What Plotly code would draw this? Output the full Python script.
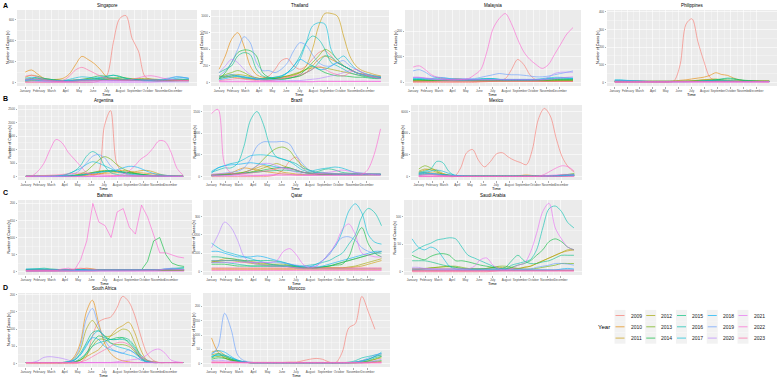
import plotly.graph_objects as go

W_PX, H_PX = 781, 378

YEARS = [2009, 2010, 2011, 2012, 2013, 2014, 2015, 2016, 2017, 2018, 2019, 2020, 2021, 2022, 2023]
COLORS = ["#F8766D", "#E58700", "#C99800", "#A3A500", "#6BB100", "#00BA38", "#00BF7D", "#00C0AF",
          "#00BCD8", "#00B0F6", "#619CFF", "#B983FF", "#E76BF3", "#FD61D1", "#FF67A4"]
WEEKS = [1, 3, 5, 7, 9, 11, 13, 15, 17, 19, 21, 23, 25, 27, 29, 31, 33, 35, 37, 39, 41, 43, 45, 47, 49, 51, 53]
MONTHS = ["January", "February", "March", "April", "May", "June", "July", "August",
          "September", "October", "November", "December"]
MONTH_WEEKS = [1, 5.43, 9.43, 13.86, 18.14, 22.57, 26.86, 31.29, 35.71, 40, 44.43, 48.71]

SINGAPORE = {
    2009: [0,0,0,0,0,0,0,0,0,0,0,5,20,70,380,610,640,420,300,60,30,25,20,20,20,20,20],
    2010: [100,120,80,40,30,30,40,80,170,250,220,180,120,50,30,30,30,35,35,30,25,20,20,20,25,25,25],
    2011: [50,70,60,40,30,25,20,20,25,30,35,40,35,30,30,25,20,20,20,25,25,25,20,20,20,20,20],
    2012: [15,20,25,25,20,15,15,15,15,20,20,25,30,35,40,35,30,30,35,40,35,30,25,20,20,20,20],
    2013: [10,15,15,15,15,12,10,10,12,15,15,20,25,30,40,50,45,35,30,25,20,15,15,15,15,15,15],
    2014: [30,40,40,35,30,25,20,20,25,30,40,55,65,60,70,60,40,30,25,20,20,20,20,20,25,25,25],
    2015: [25,30,30,25,20,18,15,15,20,25,30,35,45,50,45,35,30,25,20,20,18,15,15,15,18,20,20],
    2016: [20,35,55,40,30,20,15,15,20,25,30,35,40,40,35,30,25,20,20,15,15,15,20,25,30,30,25],
    2017: [40,50,45,30,25,20,20,30,45,55,50,45,50,60,70,55,40,30,25,20,20,20,25,40,55,50,40],
    2018: [20,25,20,15,15,15,15,15,18,20,20,25,30,25,20,20,20,20,25,30,30,25,25,30,40,45,40],
    2019: [25,30,25,20,15,15,15,20,25,30,25,20,20,20,20,20,20,20,20,20,20,25,35,45,55,50,40],
    2020: [15,15,10,8,5,5,5,5,5,5,5,5,5,5,5,5,5,5,5,5,5,5,5,5,5,5,5],
    2021: [5,5,5,5,5,5,5,5,5,5,5,5,5,5,5,5,5,5,5,5,5,8,10,12,15,15,15],
    2022: [30,35,30,20,15,10,10,10,15,20,20,20,20,20,20,20,25,30,45,60,65,55,40,30,25,20,20],
    2023: [60,70,50,30,20,15,20,60,120,145,120,90,60,40,30,25,20,20,20,25,25,20,20,20,20,20,20],
}
THAILAND = {
    2009: [80,100,120,100,80,60,50,60,100,200,330,360,250,200,250,350,450,480,400,300,250,200,150,120,100,80,60],
    2010: [200,400,650,750,550,250,120,80,70,60,60,70,80,100,150,250,350,400,350,300,250,200,150,130,120,100,90],
    2011: [100,90,80,70,60,50,50,50,60,70,80,90,110,150,250,500,850,1040,1040,1000,700,400,250,180,150,120,100],
    2012: [60,80,100,120,110,90,70,60,60,70,80,100,130,160,200,220,230,220,200,180,160,140,120,100,90,80,70],
    2013: [80,120,150,180,150,100,70,50,50,60,80,100,120,150,200,300,400,500,450,350,250,200,150,120,100,90,80],
    2014: [50,150,300,450,490,480,400,150,80,60,50,60,80,120,200,250,200,150,120,100,100,90,80,80,70,60,60],
    2015: [150,200,250,400,450,420,200,100,70,50,50,60,80,100,150,200,300,400,380,300,250,200,150,120,100,80,70],
    2016: [60,80,100,90,70,60,50,50,60,80,100,150,250,400,600,700,650,500,300,250,200,150,120,100,80,70,60],
    2017: [80,100,120,100,80,70,60,60,70,80,100,150,200,350,600,850,900,880,500,350,400,300,200,150,120,100,80],
    2018: [40,60,80,100,90,70,50,40,40,50,80,150,250,350,300,250,200,200,250,300,250,200,150,120,100,80,70],
    2019: [100,180,300,500,690,600,300,180,180,150,200,300,480,600,560,420,300,250,250,300,330,250,200,150,120,100,90],
    2020: [150,250,350,300,200,120,60,40,30,30,30,30,30,30,40,50,60,80,100,120,150,180,150,120,100,80,60],
    2021: [20,20,20,20,20,15,15,15,15,15,15,15,15,15,15,15,20,20,20,20,20,20,20,20,20,20,20],
    2022: [10,10,10,10,10,10,10,10,10,10,10,10,10,10,10,10,15,15,15,15,15,15,15,15,15,15,15],
    2023: [30,40,50,60,50,40,30,30,30,40,60,80,100,120,150,200,250,200,150,120,100,150,200,150,100,80,60],
}
MALAYSIA = {
    2009: [0,0,0,0,0,0,0,0,0,0,0,2,3,5,8,15,50,90,70,30,10,5,5,5,5,5,5],
    2010: [5,5,5,5,5,8,12,15,12,8,5,5,5,5,5,5,5,5,5,5,5,5,5,5,5,5,5],
    2011: [8,8,8,8,8,8,10,12,12,10,8,8,8,8,8,8,8,8,8,8,8,8,8,10,12,12,12],
    2012: [5,5,5,5,6,6,6,5,5,5,5,5,5,5,5,5,5,5,5,5,5,5,5,5,6,6,6],
    2013: [6,6,7,7,7,6,6,6,6,6,6,6,6,6,6,6,7,7,7,7,7,7,7,7,8,8,8],
    2014: [10,10,9,8,8,8,8,8,8,8,8,8,8,8,8,8,8,8,8,9,9,10,10,10,10,10,10],
    2015: [12,12,10,10,10,10,10,10,10,10,10,10,10,10,10,10,10,10,10,10,10,10,10,12,12,12,12],
    2016: [10,12,12,12,15,15,12,10,10,10,12,15,15,15,12,10,10,10,10,10,10,12,15,15,15,15,15],
    2017: [15,15,15,15,20,18,15,12,10,10,10,12,15,15,12,10,10,10,10,10,12,15,18,20,20,18,15],
    2018: [18,18,16,14,12,12,12,12,12,12,12,12,12,12,12,12,12,12,12,12,12,12,14,16,18,18,18],
    2019: [45,50,40,25,20,18,15,15,15,15,15,20,25,30,35,32,30,30,28,25,22,22,25,30,35,40,45],
    2020: [20,20,15,12,10,10,10,10,10,10,10,10,10,10,10,10,10,10,10,10,10,12,20,35,40,40,40],
    2021: [20,20,18,15,12,10,10,10,10,10,10,10,10,10,10,10,10,10,10,10,10,10,12,15,18,20,22],
    2022: [60,65,50,30,20,15,10,10,12,15,30,50,120,210,250,270,230,170,120,90,70,55,70,110,150,190,215],
    2023: [4,4,4,4,4,4,4,4,4,4,4,4,4,4,4,4,4,4,4,4,4,4,4,4,4,4,4],
}
PHILIPPINES = {
    2009: [0,0,0,0,0,0,0,0,0,0,10,100,330,360,230,120,30,10,5,5,5,5,5,5,5,5,5],
    2010: [5,5,5,5,5,5,5,5,5,5,8,12,15,20,25,30,40,55,45,40,25,15,10,8,8,8,8],
    2011: [10,10,10,8,8,8,8,8,8,8,8,8,8,10,12,15,18,20,15,12,10,10,8,8,8,8,8],
    2012: [8,8,8,8,8,6,6,6,6,6,6,6,8,10,12,15,15,12,10,8,8,8,8,8,8,8,8],
    2013: [6,6,6,6,6,6,6,6,6,6,6,6,6,6,8,10,12,12,10,8,6,6,6,6,6,6,6],
    2014: [5,5,5,5,5,5,5,5,5,5,5,5,5,6,8,10,12,15,18,20,18,15,12,10,8,6,6],
    2015: [6,6,6,6,6,6,6,6,6,6,6,6,6,6,6,8,10,15,20,25,22,15,10,8,6,6,6],
    2016: [4,4,4,4,4,4,4,4,4,4,4,4,4,5,6,8,10,12,12,10,8,6,5,5,5,5,5],
    2017: [15,15,12,10,8,6,5,5,5,5,5,5,5,5,5,5,5,5,5,5,5,5,5,5,5,5,5],
    2018: [12,12,10,8,8,6,6,6,6,6,6,6,6,6,6,6,6,6,6,6,6,6,6,6,6,6,6],
    2019: [10,10,10,8,8,8,6,6,6,6,6,6,6,6,6,8,8,8,8,8,8,6,6,6,6,6,6],
    2020: [4,4,4,4,4,4,4,4,4,4,4,4,4,4,4,4,4,4,4,4,4,4,4,4,4,4,4],
    2021: [3,3,3,3,3,3,3,3,3,3,3,3,3,3,3,3,3,3,3,3,3,3,3,3,3,3,3],
    2022: [2,2,2,2,2,2,2,2,2,2,2,2,2,2,2,2,2,2,2,2,2,2,2,2,2,2,2],
    2023: [5,5,5,5,5,5,5,5,5,5,5,5,5,5,5,5,5,5,5,5,5,5,5,5,5,4,4],
}
ARGENTINA = {
    2009: [0,0,0,0,0,0,0,0,0,0,0,30,150,1900,2450,500,150,60,30,20,20,20,20,20,20,20,20],
    2010: [10,10,10,10,10,10,10,15,20,30,50,80,100,120,130,140,150,160,150,140,120,100,60,30,20,10,10],
    2011: [10,10,10,10,10,10,15,20,30,40,60,80,100,150,200,220,230,200,180,220,230,180,100,50,30,20,10],
    2012: [10,10,10,10,10,15,20,30,50,80,120,150,200,230,200,180,150,120,100,80,60,40,30,20,15,10,10],
    2013: [10,10,10,10,10,15,20,30,50,100,200,400,600,740,650,450,300,200,120,80,50,30,20,15,10,10,10],
    2014: [10,10,10,10,10,10,15,20,40,60,100,150,180,200,220,200,180,150,120,90,60,40,30,20,15,10,10],
    2015: [10,10,10,10,10,10,15,20,30,50,80,120,160,200,210,200,170,140,110,80,60,40,30,20,15,10,10],
    2016: [10,10,10,10,15,20,40,100,200,400,750,930,800,400,150,80,50,30,20,20,20,20,15,15,10,10,10],
    2017: [10,10,10,10,10,20,50,100,200,300,450,550,500,400,300,200,150,100,70,50,30,20,15,10,10,10,10],
    2018: [10,10,10,10,10,10,15,20,30,50,80,120,150,180,200,250,320,380,370,300,200,120,80,50,30,20,10],
    2019: [10,10,10,10,15,20,30,50,100,250,500,750,820,700,400,200,120,80,60,50,40,30,20,15,10,10,10],
    2020: [10,10,10,10,10,10,10,10,10,10,10,10,10,10,10,10,10,10,10,10,10,10,10,10,10,10,10],
    2021: [5,5,5,5,5,5,5,5,5,5,5,5,5,5,5,10,15,20,25,30,30,25,20,15,10,5,5],
    2022: [10,30,200,500,1000,1380,1250,900,650,400,150,30,20,20,20,30,80,200,400,650,800,1050,1330,1300,900,300,50],
    2023: [20,20,30,40,50,60,80,100,120,130,120,100,80,60,50,40,30,25,20,20,20,20,20,20,20,20,20],
}
BRAZIL = {
    2009: [0,0,0,0,0,0,0,0,0,10,50,150,350,450,200,80,50,50,50,50,50,50,50,50,50,50,50],
    2010: [30,40,50,80,150,200,180,150,120,100,80,60,50,40,40,40,40,40,40,40,40,40,40,40,40,40,40],
    2011: [40,50,60,60,80,100,150,200,250,200,150,100,80,60,50,50,50,50,50,50,50,50,50,40,40,40,40],
    2012: [20,30,40,50,60,80,100,150,200,250,300,250,200,150,100,80,60,50,50,50,50,50,50,50,50,50,50],
    2013: [30,40,50,60,80,100,150,250,400,550,650,680,600,400,250,150,100,80,70,60,50,40,40,40,40,40,40],
    2014: [20,30,40,50,60,80,100,120,150,180,200,210,200,150,100,80,60,50,50,50,50,50,50,50,50,50,50],
    2015: [30,40,50,60,70,80,90,100,120,130,140,150,140,120,100,80,100,150,180,150,100,80,70,60,50,50,50],
    2016: [100,150,200,200,300,700,1300,1500,1200,700,450,400,350,300,200,150,100,100,80,70,60,60,60,60,60,60,60],
    2017: [120,200,250,300,330,400,480,500,500,480,450,400,350,250,150,120,150,180,200,220,200,150,100,80,70,60,60],
    2018: [80,200,250,270,280,300,320,300,280,250,220,200,180,150,100,80,70,60,60,50,50,50,50,50,50,50,50],
    2019: [50,60,80,100,120,200,400,700,800,800,800,810,750,500,300,150,100,80,70,60,60,50,50,50,50,50,50],
    2020: [20,20,20,30,50,80,150,250,300,300,250,200,150,100,60,40,30,30,30,30,30,30,30,30,30,30,30],
    2021: [20,20,20,20,20,20,20,20,30,40,50,60,50,40,30,30,50,80,100,120,150,130,100,80,60,40,30],
    2022: [1450,1550,300,80,50,40,30,30,30,30,30,30,30,30,30,30,30,30,30,30,30,30,30,40,150,500,1100],
    2023: [50,60,60,60,60,70,80,100,120,150,180,200,180,150,100,80,70,60,60,60,60,60,60,60,60,60,60],
}
MEXICO = {
    2009: [0,0,0,0,0,0,30,800,2200,2500,1500,900,1400,2100,2200,1800,1500,1300,1100,2500,5300,6300,5600,3500,1800,900,400],
    2010: [300,400,350,300,200,100,60,40,30,30,30,30,30,30,30,30,30,100,150,100,60,40,40,40,60,80,100],
    2011: [400,600,700,600,300,150,80,50,40,40,40,40,40,40,40,40,40,40,40,40,40,40,40,50,60,80,100],
    2012: [500,700,600,400,250,150,80,50,40,40,40,40,40,40,40,40,40,40,40,40,40,40,40,80,150,200,250],
    2013: [700,1000,800,500,200,100,50,40,40,40,40,40,40,40,40,40,40,40,40,40,40,40,40,60,80,100,150],
    2014: [200,300,250,200,150,100,60,40,30,30,30,30,30,30,30,30,30,30,30,30,30,40,60,100,150,200,250],
    2015: [150,200,200,180,150,100,60,40,30,30,30,30,30,30,30,30,30,30,30,30,30,40,50,80,120,150,150],
    2016: [400,500,700,1400,1300,500,100,50,50,40,40,40,40,40,40,40,40,40,40,40,40,40,40,60,80,100,100],
    2017: [300,400,500,600,500,300,150,80,50,40,40,40,40,40,40,40,40,40,40,40,40,40,40,50,60,80,100],
    2018: [300,350,300,250,200,150,100,60,40,30,30,30,30,30,30,30,30,30,30,30,30,30,40,60,100,150,200],
    2019: [200,250,250,200,150,100,60,40,30,30,30,30,30,30,30,30,30,30,30,30,30,30,40,60,80,100,120],
    2020: [100,150,200,150,100,60,40,30,20,20,20,20,20,20,20,20,20,20,20,20,20,20,20,20,20,20,20],
    2021: [20,20,20,20,20,20,20,20,20,20,20,20,20,20,20,20,20,20,20,30,50,80,120,150,200,200,150],
    2022: [30,30,30,30,30,30,30,30,30,30,30,30,30,30,30,30,30,30,30,30,30,200,500,800,1000,900,500],
    2023: [100,150,150,120,80,50,30,20,20,20,20,20,20,20,20,20,20,20,20,20,20,20,20,20,20,20,20],
}
BAHRAIN = {
    2009: [0,0,0,0,0,0,0,0,0,0,0,2,3,4,4,3,3,3,3,3,3,3,3,3,3,3,3],
    2010: [5,5,5,5,5,5,5,5,5,8,10,8,5,5,5,5,5,5,5,5,5,5,5,5,5,5,5],
    2011: [4,4,4,4,4,4,4,4,4,4,4,4,4,4,4,4,4,4,4,4,4,4,4,4,4,4,4],
    2012: [3,3,3,3,3,3,3,3,3,3,3,3,3,3,3,3,3,3,3,3,3,3,3,3,3,3,3],
    2013: [5,5,6,6,5,5,4,4,4,4,4,4,4,4,4,4,4,4,4,4,4,4,4,4,4,4,4],
    2014: [2,2,2,2,2,2,2,2,2,2,2,2,2,2,2,2,2,2,3,5,30,90,100,50,25,18,15],
    2015: [6,7,8,10,8,6,5,4,4,4,4,4,4,4,4,4,4,4,4,4,4,4,5,6,8,10,10],
    2016: [6,6,6,6,5,5,5,5,5,5,5,5,5,5,5,5,5,5,5,5,5,5,6,8,10,12,12],
    2017: [8,8,10,8,6,5,4,4,4,4,4,4,4,4,4,4,4,4,4,4,4,4,4,5,6,6,6],
    2018: [5,5,5,5,5,5,5,5,5,5,5,5,5,5,5,5,5,5,5,5,5,5,5,5,5,5,5],
    2019: [3,3,3,3,3,3,3,3,3,3,3,3,3,3,3,3,3,3,3,3,3,3,5,8,10,8,6],
    2020: [2,2,2,2,2,2,2,2,2,2,2,2,2,2,2,2,2,2,2,2,2,3,5,8,8,6,5],
    2021: [1,1,1,1,1,1,1,1,1,1,1,1,1,1,1,1,1,1,1,1,1,1,1,1,1,1,1],
    2022: [3,3,3,3,3,3,8,10,5,35,90,200,145,135,100,175,185,130,110,195,160,110,55,55,48,43,40],
    2023: [4,4,4,4,4,4,4,5,8,10,8,6,5,5,5,5,5,5,5,5,5,5,5,5,5,5,5],
}
QATAR = {
    2009: [10,10,10,10,10,10,10,10,10,10,10,10,10,10,10,10,10,10,10,10,10,10,10,10,10,10,10],
    2010: [15,15,15,15,15,15,15,15,15,15,15,15,15,15,15,15,15,15,15,15,15,15,15,15,15,15,15],
    2011: [50,60,70,70,65,60,55,50,45,40,35,30,25,20,20,20,20,20,20,20,20,20,25,30,40,50,60],
    2012: [55,55,60,60,55,50,45,40,35,30,30,30,30,25,20,20,20,20,20,20,20,25,30,40,50,60,70],
    2013: [60,60,60,60,60,55,50,45,40,40,40,40,35,30,25,20,20,25,30,40,50,60,70,80,90,100,110],
    2014: [40,40,40,35,30,30,30,30,30,30,30,30,30,25,20,20,20,25,30,35,40,80,180,240,150,100,80],
    2015: [80,80,75,70,65,60,60,60,60,60,55,50,40,30,25,20,20,25,30,40,50,60,70,80,90,100,100],
    2016: [50,50,50,45,40,35,30,30,30,30,30,30,30,30,30,35,40,50,60,80,100,150,200,300,345,320,250],
    2017: [155,130,110,100,90,80,70,60,50,40,35,30,25,20,20,25,40,60,100,140,220,330,370,320,200,160,150],
    2018: [110,110,100,90,80,80,80,85,80,70,60,50,40,30,25,25,25,30,40,50,60,70,80,90,100,110,110],
    2019: [60,60,60,60,60,55,50,50,50,50,50,45,40,35,30,30,30,60,90,150,185,190,170,130,110,100,110],
    2020: [130,200,270,240,170,80,50,40,35,30,30,30,25,20,15,15,15,15,15,15,15,15,15,15,15,15,15],
    2021: [50,50,50,50,50,50,50,50,50,50,60,110,125,90,40,20,30,60,100,150,230,260,200,100,90,80,80],
    2022: [5,5,5,5,5,5,5,5,5,5,5,5,5,5,5,5,5,5,5,5,5,5,5,5,5,5,5],
    2023: [20,20,20,20,20,20,20,20,20,20,20,20,20,20,20,20,20,20,20,20,20,20,20,20,20,20,20],
}
SAUDI_ARABIA = {
    2009: [0,0,0,0,0,0,0,0,0,0,0,0,0,1,2,3,3,3,3,3,3,3,3,3,3,3,3],
    2010: [2,2,2,2,2,2,2,2,2,2,2,2,2,2,2,2,2,2,2,2,2,2,2,2,2,2,2],
    2011: [5,5,5,5,5,5,5,5,5,5,5,5,5,5,5,5,5,5,8,10,15,20,25,30,35,38,40],
    2012: [3,4,5,7,8,9,9,8,6,5,5,5,6,8,8,7,6,6,8,10,15,20,25,30,35,40,40],
    2013: [5,5,6,7,8,9,10,10,8,6,5,5,6,8,10,10,8,6,5,5,6,8,10,12,15,15,15],
    2014: [30,25,22,28,32,33,30,20,20,18,15,12,10,8,6,5,8,12,15,20,30,40,55,60,55,45,40],
    2015: [20,20,20,18,15,12,10,8,6,5,5,5,5,5,5,8,20,30,20,15,15,18,20,25,30,30,30],
    2016: [35,42,48,52,58,60,62,60,45,30,25,20,15,10,5,5,12,15,18,22,40,80,115,120,110,90,80],
    2017: [60,45,40,45,40,25,10,5,3,3,3,3,3,3,3,3,3,3,3,3,3,3,3,3,3,3,3],
    2018: [3,3,3,3,3,3,3,3,3,3,3,3,3,3,3,3,3,3,3,3,3,3,3,3,5,6,5],
    2019: [5,5,5,5,5,5,5,5,5,5,5,5,5,5,5,5,5,5,5,5,8,10,12,15,15,14,12],
    2020: [8,8,6,5,4,3,3,3,3,3,3,3,3,3,3,3,3,3,3,3,3,3,3,3,3,3,3],
    2021: [5,5,5,5,5,5,5,5,5,5,10,22,25,12,5,3,5,12,15,35,70,110,125,80,60,45,40],
    2022: [1,1,1,1,1,1,1,1,1,1,1,1,1,1,1,1,1,1,1,1,1,1,1,1,1,1,1],
    2023: [2,2,2,2,2,2,2,2,2,2,2,2,2,2,2,2,2,2,2,2,2,2,2,2,2,2,2],
}
SOUTH_AFRICA = {
    2009: [0,0,0,0,0,0,0,0,0,3,20,80,120,130,135,160,195,180,140,80,30,10,3,3,3,3,3],
    2010: [3,3,3,3,3,3,3,5,20,60,150,184,120,60,30,15,8,5,3,3,3,3,3,3,3,3,3],
    2011: [3,3,3,3,3,3,3,3,5,10,20,30,40,60,80,100,110,120,90,40,10,5,3,3,3,3,3],
    2012: [3,3,3,3,3,3,3,5,15,40,100,125,100,80,80,90,100,95,60,20,5,3,3,3,3,3,3],
    2013: [3,3,3,3,3,3,3,3,5,10,25,50,70,70,60,55,55,50,35,15,5,3,3,3,3,3,3],
    2014: [3,3,3,3,3,3,3,3,5,10,30,60,80,75,70,75,75,60,40,15,5,3,3,3,3,3,3],
    2015: [3,3,3,3,3,3,3,5,10,30,60,90,95,80,70,70,75,70,50,25,10,5,3,3,3,3,3],
    2016: [3,3,3,3,3,3,3,3,5,15,30,50,60,65,70,70,70,65,45,20,8,3,3,3,3,3,3],
    2017: [3,3,3,3,3,3,3,5,10,25,50,80,95,80,60,50,45,40,30,15,5,3,3,3,3,3,3],
    2018: [3,3,3,3,3,3,3,5,10,25,55,75,70,50,40,35,30,25,20,10,5,3,3,3,3,3,3],
    2019: [3,3,3,3,3,3,3,5,15,50,130,160,110,70,45,35,30,40,30,15,5,3,3,3,3,3,3],
    2020: [3,3,8,18,20,18,15,10,5,3,3,3,3,3,3,3,3,3,3,3,3,3,3,3,3,3,3],
    2021: [3,3,3,3,3,3,3,3,3,3,3,3,3,3,3,5,8,10,12,15,25,38,42,30,10,5,3],
    2022: [2,2,2,2,2,2,2,2,2,2,2,2,2,2,2,2,2,2,2,2,2,2,2,2,2,2,2],
    2023: [3,3,3,3,3,3,3,3,3,5,10,20,30,40,50,60,62,55,40,20,10,5,3,3,3,3,3],
}
MOROCCO = {
    2009: [5,5,4,4,4,4,4,4,4,4,4,4,5,5,10,15,18,15,5,3,40,125,140,235,180,120,None],
    2010: [90,40,20,10,8,5,3,3,3,3,3,3,3,3,3,3,3,3,3,3,3,3,3,3,3,5,8],
    2011: [40,45,30,15,10,5,3,3,3,3,3,3,3,3,3,3,3,3,3,3,3,3,3,5,10,15,20],
    2012: [30,35,25,15,8,5,3,3,3,3,3,3,3,3,3,3,3,3,3,3,3,3,5,10,15,25,30],
    2013: [20,25,20,12,8,5,3,3,3,3,3,3,3,3,3,3,3,3,3,3,3,3,3,5,8,15,25],
    2014: [15,20,18,12,8,5,3,3,3,3,3,3,3,3,3,3,3,3,3,3,3,3,3,3,5,8,10],
    2015: [25,30,25,15,10,5,3,3,3,3,3,3,3,3,3,3,3,3,3,3,3,3,3,5,10,20,25],
    2016: [20,35,30,20,12,6,3,3,3,3,3,3,3,3,3,3,3,3,3,3,3,5,10,20,25,30,35],
    2017: [25,30,28,20,10,5,3,3,3,3,3,3,3,3,3,3,3,3,3,3,3,3,5,10,15,25,40],
    2018: [35,45,40,25,12,6,3,3,3,3,3,3,3,3,3,3,3,3,3,3,3,3,5,8,15,25,30],
    2019: [30,60,176,120,30,10,5,3,3,3,3,3,3,3,3,3,3,3,3,3,3,3,5,10,20,30,35],
    2020: [10,12,10,8,5,3,3,3,3,3,3,3,3,3,3,3,3,3,3,3,3,3,3,3,5,10,15],
    2021: [5,5,5,5,5,5,3,3,3,3,3,3,3,3,3,3,3,3,3,3,3,3,3,3,3,5,5],
    2022: [2,2,2,2,2,2,2,2,2,2,2,2,2,2,2,2,2,2,2,2,2,2,2,2,2,2,2],
    2023: [4,4,4,4,4,4,4,4,4,4,4,4,4,4,4,4,4,4,4,4,4,4,4,4,4,4,4],
}

# y-axis tick values and ranges per panel
SG_TICKS, SG_RANGE = [0, 200, 400, 600], [-33, 693]
TH_TICKS, TH_RANGE = [0, 250, 500, 750, 1000], [-52, 1092]
MY_TICKS, MY_RANGE = [0, 100, 200], [-14, 284]
PH_TICKS, PH_RANGE = [0, 100, 200, 300, 400], [-20, 410]
AR_TICKS, AR_RANGE = [0, 500, 1000, 1500, 2000, 2500], [-127, 2660]
BR_TICKS, BR_RANGE = [0, 500, 1000, 1500], [-79, 1650]
MX_TICKS, MX_RANGE = [0, 2000, 4000, 6000], [-315, 6615]
BH_TICKS, BH_RANGE = [0, 50, 100, 150, 200], [-10, 210]
QA_TICKS, QA_RANGE = [0, 100, 200, 300], [-19, 391]
SA_TICKS, SA_RANGE = [0, 50, 100], [-6, 131]
ZA_TICKS, ZA_RANGE = [0, 50, 100, 150, 200], [-10, 205]
MA_TICKS, MA_RANGE = [0, 50, 100, 150, 200], [-12, 247]

# name, data, ticks, range, pixel box (left, right, top, bottom), line shape
PANELS = [
    ("Singapore", SINGAPORE, SG_TICKS, SG_RANGE, (17, 197, 10, 86), "spline"),
    ("Thailand", THAILAND, TH_TICKS, TH_RANGE, (211, 389, 10, 86), "spline"),
    ("Malaysia", MALAYSIA, MY_TICKS, MY_RANGE, (405, 581, 10, 86), "spline"),
    ("Philippines", PHILIPPINES, PH_TICKS, PH_RANGE, (607, 777, 10, 86), "spline"),
    ("Argentina", ARGENTINA, AR_TICKS, AR_RANGE, (18, 191, 105, 180), "spline"),
    ("Brazil", BRAZIL, BR_TICKS, BR_RANGE, (203, 389, 105, 180), "spline"),
    ("Mexico", MEXICO, MX_TICKS, MX_RANGE, (411, 582, 105, 180), "spline"),
    ("Bahrain", BAHRAIN, BH_TICKS, BH_RANGE, (18, 192, 200, 275), "linear"),
    ("Qatar", QATAR, QA_TICKS, QA_RANGE, (203, 390, 200, 275), "spline"),
    ("Saudi Arabia", SAUDI_ARABIA, SA_TICKS, SA_RANGE, (404, 582, 200, 275), "spline"),
    ("South Africa", SOUTH_AFRICA, ZA_TICKS, ZA_RANGE, (18, 191, 293, 367), "spline"),
    ("Morocco", MOROCCO, MA_TICKS, MA_RANGE, (203, 390, 293, 367), "spline"),
]

for name, data, *_ in PANELS:
    for yr in YEARS:
        if len(data[yr]) != len(WEEKS):
            raise ValueError(f"{name} {yr}: {len(data[yr])} values")

FONT = "Liberation Sans, Arial, sans-serif"
GRID = "#FFFFFF"


def px_x(p):
    return p / W_PX


def px_y(p):
    return 1 - p / H_PX


fig = go.Figure()
layout = dict(
    width=W_PX, height=H_PX, margin=dict(l=0, r=0, t=0, b=0),
    paper_bgcolor="white", plot_bgcolor="#EBEBEB", showlegend=False,
    font=dict(family=FONT, color="#000000"),
)
annotations = []
shapes = []

minor_x = [(MONTH_WEEKS[i] + MONTH_WEEKS[i + 1]) / 2 for i in range(len(MONTH_WEEKS) - 1)]

for i, (name, data, ticks, yrange, box, shape) in enumerate(PANELS):
    k = "" if i == 0 else str(i + 1)
    l, r, t, b = box
    for yr, col in zip(YEARS, COLORS):
        fig.add_trace(go.Scatter(
            x=WEEKS, y=data[yr], mode="lines", name=str(yr),
            line=dict(color=col, width=0.8, shape=shape, smoothing=0.9),
            opacity=0.75, xaxis="x" + k, yaxis="y" + k, hoverinfo="skip",
        ))
    minor_y = [(ticks[j] + ticks[j + 1]) / 2 for j in range(len(ticks) - 1)]
    layout["xaxis" + k] = dict(
        domain=[px_x(l), px_x(r)], anchor="y" + k, range=[-1.6, 55.6],
        tickvals=MONTH_WEEKS, ticktext=MONTHS, tickangle=0,
        tickfont=dict(size=3, color="#4D4D4D"),
        ticks="outside", ticklen=1.5, tickwidth=0.4, tickcolor="#333333",
        showgrid=True, gridcolor=GRID, gridwidth=0.6, zeroline=False, showline=False,
        minor=dict(tickvals=minor_x, showgrid=True, gridcolor=GRID, gridwidth=0.3, ticks=""),
        fixedrange=True,
    )
    layout["yaxis" + k] = dict(
        domain=[px_y(b), px_y(t)], anchor="x" + k, range=yrange,
        tickvals=ticks, tickangle=0, tickfont=dict(size=3, color="#4D4D4D"),
        ticks="outside", ticklen=1.5, tickwidth=0.4, tickcolor="#333333",
        showgrid=True, gridcolor=GRID, gridwidth=0.6, zeroline=False, showline=False,
        minor=dict(tickvals=minor_y, showgrid=True, gridcolor=GRID, gridwidth=0.3, ticks=""),
        fixedrange=True,
    )
    cx = (l + r) / 2
    annotations.append(dict(text=name, x=px_x(cx), y=px_y(t - 4.5), xref="paper", yref="paper",
                            showarrow=False, font=dict(size=4.5, family=FONT), xanchor="center",
                            yanchor="middle"))
    annotations.append(dict(text="Time", x=px_x(cx), y=px_y(b + 8.6), xref="paper", yref="paper",
                            showarrow=False, font=dict(size=4, family=FONT), xanchor="center",
                            yanchor="middle"))
    annotations.append(dict(text="Number of Cases (n)", x=px_x(l - 9), y=px_y((t + b) / 2),
                            xref="paper", yref="paper", showarrow=False, textangle=-90,
                            font=dict(size=3.6, family=FONT), xanchor="center", yanchor="middle"))

for letter, ypx in [("A", 5), ("B", 98), ("C", 192), ("D", 287)]:
    annotations.append(dict(text="<b>" + letter + "</b>", x=px_x(1), y=px_y(ypx), xref="paper",
                            yref="paper", showarrow=False, font=dict(size=7, family=FONT),
                            xanchor="left", yanchor="middle"))

# legend (drawn as keys + text)
annotations.append(dict(text="Year", x=px_x(596), y=px_y(327), xref="paper", yref="paper",
                        showarrow=False, font=dict(size=6, family=FONT), xanchor="left",
                        yanchor="middle"))
for idx, (yr, col) in enumerate(zip(YEARS, COLORS)):
    c, rr = divmod(idx, 3)
    kx = 620 + 30.75 * c
    ky = 315.5 + 11.3 * rr
    shapes.append(dict(type="rect", xref="paper", yref="paper",
                       x0=px_x(kx - 5.5), x1=px_x(kx + 5.5), y0=px_y(ky + 5.6), y1=px_y(ky - 5.6),
                       fillcolor="#F2F2F2", line=dict(width=0)))
    shapes.append(dict(type="line", xref="paper", yref="paper",
                       x0=px_x(kx - 4.5), x1=px_x(kx + 4.5), y0=px_y(ky), y1=px_y(ky),
                       line=dict(color=col, width=0.9), opacity=0.75))
    annotations.append(dict(text=str(yr), x=px_x(kx + 8.5), y=px_y(ky), xref="paper", yref="paper",
                            showarrow=False, font=dict(size=5, family=FONT, color="#1A1A1A"),
                            xanchor="left", yanchor="middle"))

layout["annotations"] = annotations
layout["shapes"] = shapes
fig.update_layout(**layout)
fig.write_html("out.html", config={"displayModeBar": False, "staticPlot": True},
               post_script="document.body.style.margin='0';document.body.style.overflow='hidden';")
